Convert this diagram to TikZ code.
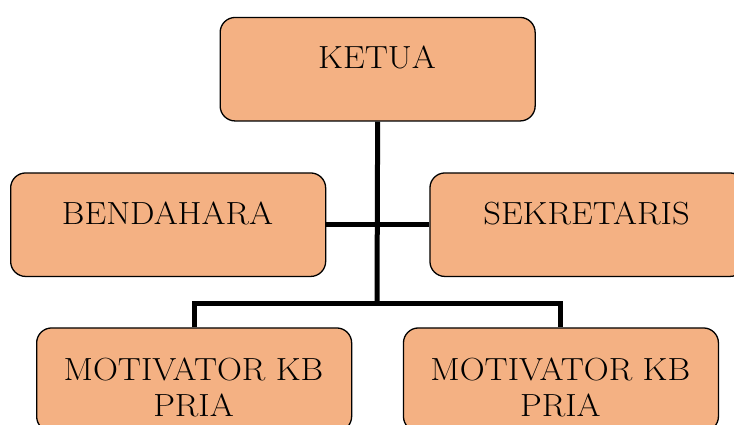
\documentclass[tikz,border=0pt]{standalone}
\definecolor{boxfill}{HTML}{F4B183}
\newcommand{\widetxt}[1]{\scalebox{1.08}[1]{#1}}
\begin{document}
\begin{tikzpicture}[x=1pt,y=-1pt,
  orgbox/.style={draw=black, line width=1.3pt, fill=boxfill, rounded corners=15pt,
    minimum width=315pt, minimum height=103.5pt, inner sep=0pt, anchor=north west},
  lbl/.style={anchor=base, inner sep=0pt, font=\fontsize{32}{37}\selectfont},
  conn/.style={line width=5pt, black}]
\useasboundingbox (0,0) rectangle (734,425);
% boxes
\node[orgbox] (ketua) at (219.5,16.8) {};
\node[orgbox] (bend) at (10,172.3) {};
\node[orgbox] (sek) at (429.3,172.3) {};
\node[orgbox] (m1) at (36,327.3) {};
\node[orgbox] (m2) at (402.8,327.3) {};
% connectors
\coordinate (jb) at (377,303.5);
\draw[conn] (ketua.south) -- (jb);
\draw[conn] (bend.east) -- (sek.west);
\draw[conn] (m1.north) |- (jb) -| (m2.north);
% labels
\node[lbl] (tketua) at (377,69) {\widetxt{KETUA}};
\node[lbl] (tbend) at (167.5,225) {\widetxt{BENDAHARA}};
\node[lbl] (tsek) at (586.5,224) {\widetxt{SEKRETARIS}};
\node[lbl] (tm1a) at (193.5,380) {\widetxt{MOTIVATOR KB}};
\node[lbl] (tm1b) at (193.5,416.5) {\widetxt{PRIA}};
\node[lbl] (tm2a) at (560.3,380) {\widetxt{MOTIVATOR KB}};
\node[lbl] (tm2b) at (560.3,416.5) {\widetxt{PRIA}};
\end{tikzpicture}
\end{document}
